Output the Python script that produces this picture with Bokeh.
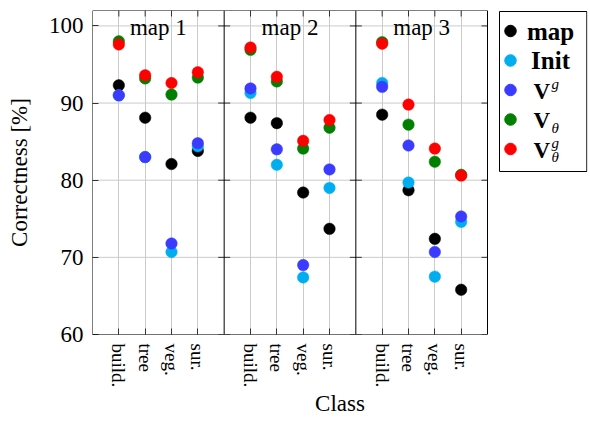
from bokeh.plotting import figure
from bokeh.models import Range1d, FixedTicker, Span, BoxAnnotation
from bokeh.core.properties import value
from bokeh.embed import file_html
from bokeh.resources import INLINE

FONT = "Liberation Serif"

# ---------------- data ----------------
panels = ["map 1", "map 2", "map 3"]
classes = ["build.", "tree", "veg.", "sur."]
y_ticks = [60, 70, 80, 90, 100]

series_labels = ["map", "Init", "V", "V", "V"]
series_sup = ["", "", "g", "", "g"]
series_sub = ["", "", "", "θ", "θ"]
series_colors = ["#000000", "#00aeef", "#3b3bff", "#007f00", "#ff0000"]

# order: map 1 (build., tree, veg., sur.), map 2 (...), map 3 (...)
map_vals = [92.3, 88.1, 82.1, 83.8, 88.1, 87.4, 78.4, 73.7, 88.5, 78.7, 72.4, 65.8]
init_vals = [91.0, 83.0, 70.7, 84.4, 91.3, 82.0, 67.4, 79.0, 92.6, 79.7, 67.5, 74.6]
vg_vals = [91.0, 83.0, 71.8, 84.8, 91.9, 84.0, 69.0, 81.4, 92.1, 84.5, 70.7, 75.3]
vth_vals = [98.0, 93.2, 91.1, 93.3, 96.9, 92.8, 84.1, 86.8, 97.9, 87.2, 82.4, 80.7]
vgth_vals = [97.6, 93.6, 92.6, 94.0, 97.2, 93.4, 85.1, 87.8, 97.7, 89.8, 84.1, 80.6]
series_values = [map_vals, init_vals, vg_vals, vth_vals, vgth_vals]

# ---------------- layout helpers ----------------
slot = len(classes) + 1
n_panels = len(panels)
X_END = slot * n_panels
x_pos = [pi * slot + ci + 1 for pi in range(n_panels) for ci in range(len(classes))]
tick_labels = {x: classes[i % len(classes)] for i, x in enumerate(x_pos)}
boundaries = [slot * k for k in range(1, n_panels)]
panel_centers = [slot * k + slot / 2 for k in range(n_panels)]

Y0, Y1 = 60, 102
FRAME_W, PANEL_W, FRAME_H = 495, 395, 324
PX = X_END / PANEL_W            # data-x per pixel
PY = (Y1 - Y0) / FRAME_H        # data-y per pixel
X_MAX = FRAME_W * PX

TICK_COLOR = "#333333"
GRID_COLOR = "#cbcbcb"
TICK_LEN = 6

p = figure(width=588, height=420,
           x_range=Range1d(0, X_MAX), y_range=Range1d(Y0, Y1),
           output_backend="svg", toolbar_location=None,
           min_border_left=92, min_border_right=1, min_border_top=10, min_border_bottom=86)
p.outline_line_color = None

# vertical grid (categories)
p.xgrid.ticker = FixedTicker(ticks=x_pos)
p.xgrid.grid_line_color = GRID_COLOR
p.ygrid.visible = False
# horizontal grid only over the panels
p.segment(x0=[0] * len(y_ticks), y0=y_ticks, x1=[X_END] * len(y_ticks), y1=y_ticks,
          line_color=GRID_COLOR, line_width=1)

# x axis
xa = p.xaxis[0]
xa.ticker = FixedTicker(ticks=x_pos)
xa.major_label_overrides = tick_labels
xa.major_label_orientation = "vertical"
xa.major_label_text_font = FONT
xa.major_label_text_font_size = "19px"
xa.major_label_text_color = "black"
xa.major_label_standoff = 9
xa.major_tick_in = TICK_LEN
xa.major_tick_out = 0
xa.major_tick_line_color = TICK_COLOR
xa.minor_tick_line_color = None
xa.axis_line_color = None
xa.axis_label = "Class"
xa.axis_label_text_font = FONT
xa.axis_label_text_font_style = "normal"
xa.axis_label_text_font_size = "23px"
xa.axis_label_text_color = "black"
xa.axis_label_standoff = 1

# y axis
ya = p.yaxis[0]
ya.ticker = FixedTicker(ticks=y_ticks)
ya.major_label_text_font = FONT
ya.major_label_text_font_size = "23px"
ya.major_label_text_color = "black"
ya.major_label_standoff = 9
ya.major_tick_in = TICK_LEN
ya.major_tick_out = 0
ya.major_tick_line_color = TICK_COLOR
ya.minor_tick_line_color = None
ya.axis_line_color = None
ya.axis_label = "Correctness [%]"
ya.axis_label_text_font = FONT
ya.axis_label_text_font_style = "normal"
ya.axis_label_text_font_size = "23px"
ya.axis_label_text_color = "black"
ya.axis_label_standoff = 14

# mirrored ticks: top edge and right edge of the panels
p.segment(x0=x_pos, y0=[Y1] * len(x_pos), x1=x_pos, y1=[Y1 - TICK_LEN * PY] * len(x_pos),
          line_color=TICK_COLOR, line_width=1)
p.segment(x0=[X_END - TICK_LEN * PX] * len(y_ticks), y0=y_ticks, x1=[X_END] * len(y_ticks),
          y1=y_ticks, line_color=TICK_COLOR, line_width=1)

# panel separators and their ticks
for b in boundaries:
    p.add_layout(Span(location=b, dimension="height", line_color="black", line_width=1))
    p.scatter([b] * len(y_ticks), y_ticks, marker="dash", size=2 * TICK_LEN,
              line_color=TICK_COLOR, line_width=1)

# data points (drawn in legend order; last on top)
for vals, col in zip(series_values, series_colors):
    p.scatter(x_pos, vals, size=11.5, fill_color=col, line_color=col, line_width=0.5)

# panel titles
p.text(x=panel_centers, y=[Y1 - 17 * PY] * n_panels, text=panels,
       text_align="center", text_baseline="alphabetic",
       text_font=value(FONT), text_font_size="23px", text_color="black")

# box around the panels
p.add_layout(BoxAnnotation(left=0, right=X_END, bottom=Y0, top=Y1,
                           fill_alpha=0, line_color="black", line_alpha=1, line_width=1))

# ---------------- legend ----------------
lg_left = X_END + 12 * PX
lg_right = X_MAX - 0.7 * PX
lg_top = Y1 - 1 * PY
lg_bottom = Y1 - 161 * PY
p.add_layout(BoxAnnotation(left=lg_left, right=lg_right, bottom=lg_bottom, top=lg_top,
                           fill_alpha=0, line_color="black", line_alpha=1, line_width=1))

item_px = [20.5 + 29.5 * i for i in range(len(series_labels))]
item_y = [Y1 - v * PY for v in item_px]
p.scatter([X_END + 23 * PX] * len(item_y), item_y, size=11.5, fill_color=series_colors,
          line_color=series_colors)

for yy, lab, sup, sub in zip(item_y, series_labels, series_sup, series_sub):
    if sup or sub:
        p.text(x=[X_END + 46 * PX], y=[yy - 1 * PY], text=[lab], text_align="left",
               text_baseline="middle", text_font=value(FONT), text_font_style="bold",
               text_font_size="23px", text_color="black")
        if sup:
            p.text(x=[X_END + 64 * PX], y=[yy + 6 * PY], text=[sup], text_align="left",
                   text_baseline="middle", text_font=value(FONT), text_font_style="italic",
                   text_font_size="15px", text_color="black")
        if sub:
            p.text(x=[X_END + 64 * PX], y=[yy - 8 * PY], text=[sub], text_align="left",
                   text_baseline="middle", text_font=value(FONT), text_font_style="italic",
                   text_font_size="15px", text_color="black")
    else:
        p.text(x=[X_END + 63 * PX], y=[yy], text=[lab], text_align="center",
               text_baseline="middle", text_font=value(FONT), text_font_style="bold",
               text_font_size="25px", text_color="black")

open("out.html", "w").write(file_html(p, INLINE))
